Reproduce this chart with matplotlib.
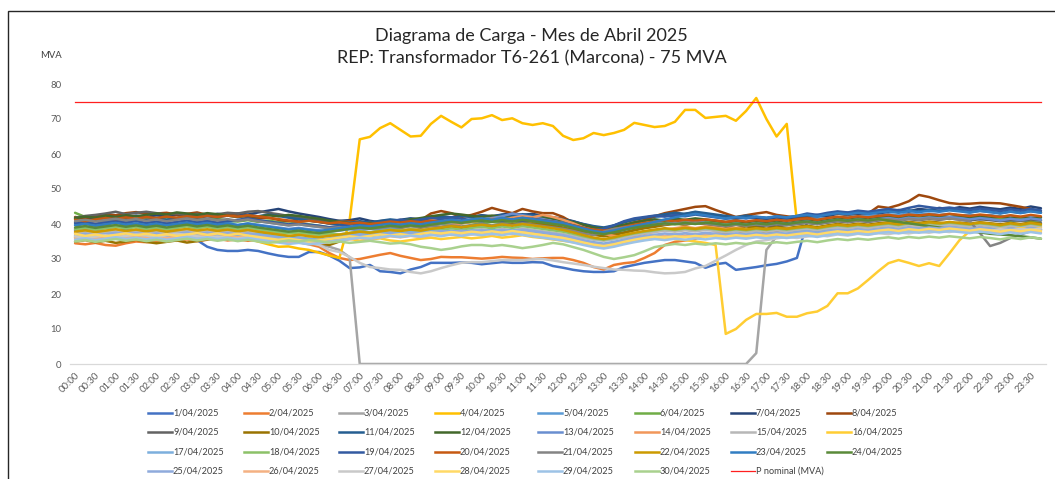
import matplotlib
matplotlib.use('Agg')
import matplotlib.pyplot as plt
from matplotlib.lines import Line2D
from matplotlib.patches import Rectangle

plt.rcParams['font.family'] = ['Lato', 'DejaVu Sans']

# ---------------- data ----------------
times = ["%02d:%02d" % (h, m) for h in range(24) for m in (0, 15, 30, 45)]
tick_labels = times[::2]
P_NOMINAL = 75

d01 = [38.2, 38.6, 38.0, 37.6, 38.1, 38.5, 38.0, 37.4,
       37.8, 37.5, 37.0, 36.6, 35.4, 33.5, 32.6, 32.3,
       32.3, 32.6, 32.3, 31.6, 31.0, 30.6, 30.6, 32.0,
       32.0, 31.0, 29.5, 27.4, 27.6, 28.3, 26.5, 26.3,
       25.9, 27.0, 27.7, 28.9, 28.9, 28.9, 29.0, 28.9,
       28.5, 28.8, 29.1, 28.9, 28.9, 29.1, 29.0, 28.0,
       27.5, 26.9, 26.5, 26.3, 26.3, 26.5, 27.7, 28.3,
       28.9, 29.3, 29.7, 29.7, 29.3, 28.9, 27.5, 28.5,
       28.9, 26.9, 27.3, 27.7, 28.2, 28.6, 29.3, 30.3,
       40.5, 41.2, 40.8, 41.5, 41.0, 41.8, 42.2, 41.6,
       42.0, 42.5, 41.8, 42.3, 42.8, 42.1, 41.7, 42.2,
       41.8, 41.3, 41.6, 41.0, 40.8, 41.2, 40.6, 40.3]
d02 = [34.5, 34.2, 34.6, 34.0, 33.8, 34.5, 35.0, 34.8,
       35.0, 35.4, 35.2, 35.6, 35.1, 35.5, 35.8, 35.3,
       35.6, 35.2, 35.5, 35.9, 35.4, 35.0, 34.8, 34.2,
       33.5, 31.7, 30.3, 29.7, 30.0, 30.6, 31.2, 31.7,
       30.9, 30.3, 29.7, 30.0, 30.6, 30.5, 30.5, 30.3,
       30.1, 30.3, 30.6, 30.4, 30.3, 30.0, 30.2, 30.3,
       30.3, 29.7, 28.9, 27.7, 27.0, 28.3, 28.8, 29.1,
       30.3, 31.7, 34.0, 34.9, 35.3, 35.7, 36.9, 37.2,
       37.5, 37.0, 37.8, 38.2, 37.6, 38.0, 38.5, 38.1,
       38.6, 38.2, 38.9, 39.2, 38.7, 39.0, 39.5, 39.1,
       39.4, 39.8, 39.2, 39.6, 40.0, 39.5, 39.2, 39.7,
       39.3, 39.0, 39.4, 38.8, 39.1, 38.7, 38.9, 38.5]
d03 = [38.5, 38.0, 38.4, 38.8, 38.2, 37.9, 38.3, 38.6,
       38.9, 38.4, 38.0, 38.5, 38.2, 37.8, 38.1, 38.4,
       38.0, 37.6, 37.2, 36.8, 36.5, 36.0, 35.4, 34.8,
       34.2, 33.5, 32.6, 30.5, 0.0, 0.0, 0.0, 0.0,
       0.0, 0.0, 0.0, 0.0, 0.0, 0.0, 0.0, 0.0,
       0.0, 0.0, 0.0, 0.0, 0.0, 0.0, 0.0, 0.0,
       0.0, 0.0, 0.0, 0.0, 0.0, 0.0, 0.0, 0.0,
       0.0, 0.0, 0.0, 0.0, 0.0, 0.0, 0.0, 0.0,
       0.0, 0.0, 0.0, 3.1, 32.6, 36.5, 37.2, 37.8,
       38.2, 37.9, 38.4, 38.0, 38.6, 38.3, 38.8, 38.5,
       38.9, 39.2, 38.7, 39.0, 39.4, 38.9, 39.1, 38.8,
       39.0, 38.6, 38.9, 38.4, 38.7, 38.3, 38.5, 38.1]
d04 = [36.5, 36.0, 36.6, 36.2, 36.9, 36.4, 36.8, 37.2,
       36.8, 36.3, 36.6, 37.0, 36.4, 36.0, 36.3, 36.6,
       36.4, 35.8, 35.0, 34.2, 33.5, 33.6, 33.0, 32.6,
       31.8, 31.0, 30.3, 41.0, 64.2, 64.9, 67.4, 68.8,
       66.9, 65.0, 65.2, 68.6, 70.9, 69.2, 67.6, 70.0,
       70.2, 71.1, 69.7, 70.2, 68.8, 68.3, 68.8, 68.0,
       65.2, 64.0, 64.5, 66.0, 65.4, 66.0, 66.9, 68.9,
       68.3, 67.7, 68.0, 69.2, 72.6, 72.6, 70.3, 70.6,
       70.9, 69.5, 72.3, 76.0, 70.0, 65.0, 68.6, 40.5,
       41.0, 40.6, 41.3, 40.8, 41.5, 41.2, 41.8, 41.4,
       42.0, 41.6, 42.3, 41.9, 42.5, 42.1, 41.8, 42.2,
       41.9, 41.5, 41.8, 41.3, 41.6, 41.0, 41.4, 41.1]
d05 = [39.8, 40.2, 39.6, 40.0, 40.5, 40.1, 39.7, 40.3,
       40.6, 40.2, 39.9, 40.4, 40.8, 40.3, 40.0, 40.5,
       40.9, 41.3, 40.8, 40.4, 40.0, 39.6, 39.9, 39.5,
       39.1, 38.8, 39.2, 38.6, 38.9, 39.3, 39.0, 39.5,
       39.8, 40.2, 39.9, 40.4, 40.8, 41.2, 40.7, 41.0,
       41.4, 41.0, 41.5, 41.8, 41.3, 42.0, 41.6, 41.2,
       40.8, 40.1, 39.4, 38.6, 38.2, 38.8, 39.5, 40.2,
       41.0, 41.8, 42.5, 43.1, 42.6, 43.3, 42.8, 42.2,
       41.8, 41.4, 41.9, 41.5, 41.2, 41.6, 41.3, 41.0,
       41.4, 41.8, 42.2, 41.9, 42.4, 42.1, 42.6, 42.3,
       42.8, 42.5, 43.1, 42.7, 43.0, 42.6, 42.9, 42.4,
       42.7, 42.3, 42.6, 42.1, 42.4, 41.9, 42.2, 41.8]
d06 = [43.2, 42.0, 41.5, 41.8, 41.2, 41.6, 41.0, 41.4,
       41.8, 41.3, 41.7, 42.1, 41.6, 41.2, 41.5, 41.0,
       40.7, 41.1, 40.6, 41.0, 40.5, 40.8, 40.3, 39.9,
       39.5, 39.0, 38.6, 38.9, 38.4, 38.8, 39.1, 38.7,
       39.0, 39.4, 39.1, 39.6, 40.0, 39.7, 40.2, 40.5,
       40.1, 40.6, 40.3, 40.8, 40.4, 40.9, 40.5, 40.2,
       39.8, 39.2, 38.5, 37.9, 37.6, 38.0, 38.6, 39.3,
       39.8, 40.3, 40.7, 41.1, 40.8, 41.4, 41.0, 40.6,
       40.2, 40.5, 40.1, 39.8, 40.2, 40.0, 39.7, 40.1,
       40.4, 40.0, 40.5, 40.9, 40.6, 41.1, 40.8, 41.2,
       41.6, 41.2, 41.7, 42.0, 41.6, 41.9, 41.5, 41.8,
       41.4, 41.7, 41.2, 41.5, 41.0, 41.3, 40.9, 41.1]
d07 = [41.5, 41.9, 41.4, 41.8, 42.2, 41.9, 42.4, 42.0,
       42.5, 42.1, 42.6, 42.3, 42.8, 42.4, 42.9, 42.6,
       43.0, 42.7, 43.3, 43.8, 44.3, 43.6, 43.0, 42.5,
       42.0, 41.4, 40.9, 41.1, 41.6, 40.9, 40.5, 40.8,
       41.2, 41.6, 41.3, 41.8, 42.2, 41.9, 42.4, 42.1,
       42.5, 42.2, 42.7, 43.1, 42.6, 42.9, 42.3, 41.9,
       41.5, 40.8, 39.9, 39.2, 38.7, 39.5, 40.6, 41.3,
       41.8, 42.2, 42.6, 42.1, 42.9, 43.3, 42.8, 42.4,
       42.0, 41.6, 42.1, 41.8, 41.5, 41.9, 41.6, 41.8,
       42.2, 42.6, 42.3, 42.9, 43.2, 42.8, 43.3, 43.0,
       43.5, 44.0, 43.6, 44.3, 44.0, 44.6, 44.2, 44.8,
       44.4, 44.9, 44.5, 44.2, 44.7, 44.3, 45.0, 44.5]
d08 = [42.0, 41.6, 42.3, 42.8, 42.5, 43.1, 43.4, 42.9,
       43.0, 43.2, 42.7, 42.9, 43.3, 42.6, 42.2, 42.8,
       42.4, 42.0, 41.5, 41.8, 41.2, 40.8, 41.3, 41.0,
       40.6, 40.2, 40.5, 40.9, 40.6, 40.3, 40.8, 41.1,
       40.6, 41.0, 41.1, 43.0, 43.7, 43.1, 42.0, 42.6,
       43.5, 44.6, 43.8, 43.1, 44.3, 43.6, 43.1, 43.1,
       42.0, 40.3, 39.8, 39.1, 38.9, 39.2, 39.7, 40.5,
       41.1, 42.2, 43.1, 43.7, 44.3, 44.9, 45.1, 44.0,
       43.0, 42.0, 42.5, 43.0, 43.4, 42.6, 42.2, 41.8,
       42.0, 42.4, 42.8, 43.0, 42.6, 43.2, 43.0, 45.0,
       44.6, 45.4, 46.5, 48.3, 47.7, 46.8, 46.0, 45.7,
       45.8, 46.0, 46.0, 45.9, 45.4, 44.9, 44.3, 43.4]
d09 = [41.8, 42.3, 42.6, 43.0, 43.5, 42.8, 43.2, 43.5,
       43.1, 42.7, 43.0, 42.5, 42.9, 42.4, 42.8, 43.2,
       43.0, 43.5, 43.7, 43.2, 42.8, 42.3, 41.9, 41.5,
       41.0, 40.6, 40.9, 40.5, 40.2, 40.6, 40.3, 40.8,
       41.1, 40.7, 41.0, 40.6, 40.9, 40.5, 40.8, 41.2,
       40.8, 41.1, 40.7, 41.0, 40.6, 40.9, 40.5, 40.2,
       39.8, 39.4, 39.0, 38.5, 37.8, 37.2, 37.6, 38.3,
       38.9, 39.4, 39.8, 40.2, 39.9, 40.4, 40.0, 39.7,
       39.4, 39.8, 39.5, 39.2, 39.6, 39.3, 39.7, 40.0,
       40.3, 40.0, 40.4, 40.8, 40.5, 40.9, 40.6, 41.0,
       41.3, 41.0, 41.4, 41.1, 41.5, 41.2, 41.6, 41.3,
       41.0, 41.4, 41.1, 40.8, 41.2, 40.9, 41.3, 41.0]
d10 = [35.0, 35.4, 34.8, 35.2, 34.6, 35.0, 35.5, 34.9,
       34.5, 34.9, 35.3, 34.7, 35.1, 35.6, 36.2, 36.8,
       37.2, 37.6, 37.1, 37.5, 37.0, 36.5, 36.0, 35.2,
       34.6, 34.0, 35.0, 36.5, 37.2, 37.6, 37.9, 38.2,
       38.5, 38.1, 38.6, 39.0, 38.7, 39.2, 38.9, 39.3,
       39.6, 39.2, 39.7, 40.1, 39.8, 40.2, 39.9, 39.5,
       39.0, 38.4, 37.6, 36.9, 36.5, 36.9, 37.5, 38.2,
       38.8, 39.2, 39.7, 40.1, 39.8, 40.3, 40.0, 39.6,
       39.2, 38.8, 39.3, 39.0, 38.7, 39.1, 38.8, 39.2,
       39.5, 39.1, 39.6, 40.0, 39.7, 40.1, 39.8, 40.2,
       40.5, 40.1, 40.6, 40.3, 40.7, 40.4, 40.0, 40.4,
       40.1, 40.5, 40.2, 39.9, 40.3, 40.0, 40.4, 40.1]
d11 = [40.5, 40.9, 41.2, 40.8, 41.3, 41.0, 41.5, 41.1,
       41.6, 41.2, 41.7, 42.1, 41.8, 42.2, 41.9, 42.4,
       42.1, 42.6, 42.2, 42.7, 42.3, 41.8, 41.4, 41.0,
       40.6, 40.1, 39.8, 40.2, 40.8, 40.4, 40.9, 41.3,
       41.0, 41.5, 41.2, 41.7, 42.1, 41.8, 42.3, 42.0,
       42.4, 42.1, 42.6, 42.3, 42.8, 42.5, 42.1, 41.7,
       41.3, 40.7, 40.0, 39.4, 39.0, 39.6, 40.5, 41.2,
       41.8, 42.3, 42.8, 43.2, 42.9, 43.5, 43.1, 42.7,
       42.3, 41.9, 42.4, 42.0, 41.7, 42.1, 41.8, 42.2,
       42.5, 42.2, 42.7, 43.1, 42.8, 43.3, 43.0, 43.5,
       43.8, 43.4, 43.9, 43.6, 44.0, 43.7, 44.1, 43.8,
       43.4, 43.8, 43.5, 43.1, 43.6, 43.2, 43.7, 43.3]
d12 = [41.7, 42.1, 41.8, 42.4, 42.0, 42.5, 42.2, 42.6,
       43.0, 42.7, 43.3, 43.0, 42.6, 43.1, 42.8, 42.4,
       42.0, 42.4, 42.1, 42.5, 42.2, 42.6, 42.3, 41.9,
       41.5, 41.0, 40.6, 40.2, 39.8, 40.3, 40.0, 40.5,
       40.9, 41.3, 41.7, 42.2, 42.6, 43.0, 42.7, 42.3,
       42.0, 42.4, 42.1, 41.7, 42.0, 41.6, 41.9, 41.5,
       41.1, 40.5, 39.8, 39.0, 38.6, 39.1, 39.8, 40.4,
       40.9, 41.3, 41.0, 41.5, 41.2, 41.6, 41.3, 40.9,
       40.6, 40.9, 40.5, 40.8, 40.4, 40.7, 40.3, 40.6,
       41.0, 40.6, 41.1, 41.5, 41.2, 41.6, 41.3, 41.8,
       42.1, 41.7, 42.2, 42.5, 42.1, 42.4, 42.0, 42.3,
       41.9, 42.2, 41.8, 42.1, 41.7, 42.0, 41.6, 41.9]
d13 = [38.8, 39.2, 38.9, 39.4, 39.0, 39.5, 39.1, 39.6,
       39.3, 39.8, 39.4, 39.9, 39.5, 40.0, 39.6, 40.1,
       39.7, 40.2, 39.8, 39.4, 39.0, 38.6, 38.9, 38.5,
       38.2, 37.8, 38.1, 38.5, 38.2, 38.6, 38.3, 38.8,
       39.1, 39.5, 39.2, 39.7, 40.1, 40.5, 40.2, 40.8,
       41.2, 41.7, 42.2, 43.0, 42.5, 42.0, 41.4, 40.8,
       40.2, 39.5, 38.9, 38.3, 37.9, 38.4, 39.0, 39.6,
       40.1, 40.5, 40.2, 40.6, 40.3, 40.7, 40.4, 40.0,
       39.7, 40.1, 39.8, 40.2, 39.9, 40.3, 40.0, 40.4,
       40.7, 40.3, 40.8, 41.2, 40.9, 41.3, 41.0, 41.4,
       41.7, 41.3, 41.8, 41.5, 41.9, 41.6, 42.0, 41.7,
       41.3, 41.7, 41.4, 41.0, 41.5, 41.1, 41.6, 41.2]
d14 = [37.5, 37.9, 37.4, 37.8, 38.2, 37.8, 38.3, 37.9,
       38.4, 38.0, 38.5, 38.1, 38.6, 38.2, 38.7, 38.3,
       38.8, 38.4, 38.0, 37.6, 37.2, 37.6, 37.2, 36.8,
       36.5, 36.8, 36.4, 36.9, 37.3, 36.9, 37.4, 37.8,
       38.1, 38.6, 38.3, 38.8, 39.2, 39.7, 40.2, 40.6,
       41.0, 41.5, 41.2, 41.8, 42.2, 41.9, 42.6, 42.0,
       41.2, 40.2, 39.0, 38.0, 37.2, 36.6, 36.2, 36.6,
       37.2, 37.8, 38.3, 38.8, 39.2, 38.8, 39.3, 39.0,
       38.6, 38.9, 38.5, 38.2, 38.6, 38.3, 38.7, 38.4,
       38.8, 38.5, 38.9, 39.3, 39.0, 39.4, 39.1, 39.5,
       39.8, 39.4, 39.9, 39.6, 40.0, 39.7, 40.1, 39.8,
       39.5, 39.9, 39.6, 39.2, 39.7, 39.3, 39.8, 39.4]
d15 = [37.2, 37.6, 37.1, 37.5, 37.9, 37.4, 37.8, 37.3,
       37.7, 37.2, 37.6, 38.0, 37.5, 37.9, 37.4, 37.8,
       37.3, 37.7, 37.2, 36.8, 36.4, 36.0, 35.7, 35.4,
       35.2, 35.5, 35.9, 36.3, 36.8, 37.1, 36.8, 37.2,
       37.5, 37.1, 37.6, 38.0, 37.7, 38.1, 37.8, 38.2,
       38.5, 38.1, 38.6, 38.2, 38.7, 38.3, 37.9, 37.5,
       37.1, 36.6, 36.0, 35.5, 35.2, 35.6, 36.2, 36.8,
       37.3, 37.7, 38.1, 37.8, 38.2, 37.9, 38.3, 38.0,
       37.6, 38.0, 37.7, 38.1, 37.8, 38.2, 37.9, 38.3,
       38.6, 38.2, 38.7, 39.0, 38.7, 39.1, 38.8, 39.2,
       39.5, 39.1, 39.6, 39.3, 39.7, 39.4, 39.8, 39.5,
       39.2, 39.6, 39.3, 38.9, 39.4, 39.0, 39.5, 39.1]
d16 = [36.0, 35.5, 36.2, 35.8, 36.5, 36.0, 35.6, 36.3,
       36.8, 36.2, 35.9, 36.4, 36.7, 36.1, 35.8, 36.2,
       36.5, 36.0, 35.7, 36.1, 35.5, 35.2, 35.6, 35.9,
       35.4, 35.0, 35.5, 35.8, 35.2, 35.6, 35.9, 35.3,
       35.0, 35.4, 35.8, 36.1, 35.7, 36.0, 36.3, 35.9,
       36.2, 36.6, 36.1, 36.4, 36.8, 36.3, 36.0, 35.6,
       35.2, 34.8, 34.3, 33.9, 34.2, 34.6, 34.9, 35.2,
       35.5, 35.8, 36.1, 35.7, 35.4, 35.0, 34.6, 34.0,
       8.6, 10.0, 12.6, 14.3, 14.3, 14.6, 13.5, 13.5,
       14.5, 15.0, 16.6, 20.2, 20.2, 21.6, 24.0, 26.5,
       28.8, 29.7, 28.9, 28.0, 28.8, 28.0, 31.6, 35.4,
       38.0, 38.4, 38.1, 38.6, 38.3, 38.8, 38.5, 38.9]
d17 = [36.2, 35.8, 36.3, 35.9, 36.4, 36.0, 36.5, 36.1,
       36.6, 36.2, 36.7, 36.3, 36.8, 36.4, 36.9, 36.5,
       37.0, 36.6, 37.1, 36.7, 36.3, 35.9, 36.2, 35.8,
       35.5, 35.9, 36.3, 36.7, 37.1, 36.8, 37.2, 37.6,
       37.3, 37.8, 37.5, 38.0, 37.6, 38.1, 37.7, 38.2,
       37.9, 38.3, 37.9, 38.4, 38.0, 37.6, 37.2, 36.8,
       36.4, 35.9, 35.3, 34.8, 34.4, 34.9, 35.5, 36.0,
       36.5, 36.9, 36.6, 37.0, 36.7, 37.1, 36.8, 37.2,
       36.9, 37.3, 37.0, 37.4, 37.1, 37.5, 37.2, 37.6,
       37.9, 37.5, 38.0, 38.3, 38.0, 38.4, 38.1, 38.5,
       38.8, 38.4, 38.9, 38.6, 39.0, 38.7, 39.1, 38.8,
       38.5, 38.9, 38.6, 38.2, 38.7, 38.3, 38.8, 38.4]
d18 = [38.5, 38.9, 38.4, 38.8, 39.2, 38.7, 39.1, 38.6,
       39.0, 38.5, 38.9, 39.3, 38.8, 39.2, 38.7, 39.1,
       38.6, 39.0, 38.5, 38.1, 37.7, 37.3, 37.6, 37.2,
       36.9, 37.3, 37.0, 37.5, 37.9, 37.6, 38.0, 38.4,
       38.1, 38.5, 38.2, 38.7, 38.3, 38.8, 38.4, 38.9,
       39.2, 38.8, 39.3, 38.9, 39.4, 39.0, 38.6, 38.2,
       37.8, 37.2, 36.5, 35.9, 35.5, 36.0, 36.7, 37.3,
       37.8, 38.2, 38.6, 38.3, 38.7, 38.4, 38.8, 38.5,
       38.1, 38.5, 38.2, 38.6, 38.3, 38.7, 38.4, 38.8,
       39.1, 38.7, 39.2, 39.6, 39.3, 39.7, 39.4, 39.8,
       40.1, 39.7, 40.2, 39.9, 40.3, 40.0, 40.4, 40.1,
       39.8, 40.2, 39.9, 39.5, 40.0, 39.6, 40.1, 39.7]
d19 = [40.2, 40.6, 40.1, 40.5, 40.9, 40.4, 40.8, 40.3,
       40.7, 40.2, 40.6, 41.0, 40.5, 40.9, 40.4, 40.8,
       41.2, 41.6, 41.1, 40.7, 40.3, 39.9, 40.2, 39.8,
       39.5, 39.1, 39.4, 39.8, 40.2, 39.9, 40.4, 40.8,
       41.2, 40.8, 41.3, 41.7, 41.4, 41.9, 41.5, 41.1,
       40.8, 41.2, 40.9, 41.4, 41.0, 41.5, 41.1, 40.7,
       40.3, 39.6, 38.9, 38.2, 38.6, 39.6, 40.8, 41.6,
       42.0, 42.4, 42.1, 42.6, 42.2, 42.7, 42.3, 41.9,
       41.5, 41.9, 41.6, 42.0, 41.7, 42.1, 41.8, 42.3,
       43.0, 42.6, 43.2, 43.6, 43.3, 43.8, 43.5, 43.9,
       44.3, 43.9, 44.6, 45.2, 44.8, 44.4, 44.7, 44.3,
       44.0, 44.4, 44.1, 43.7, 44.2, 43.8, 44.3, 43.9]
d20 = [41.2, 40.8, 41.3, 41.7, 41.4, 41.9, 41.5, 42.0,
       41.7, 42.1, 41.8, 42.2, 41.9, 42.3, 42.0, 42.4,
       42.1, 42.5, 42.2, 41.8, 41.4, 41.0, 40.6, 40.9,
       40.6, 40.2, 40.5, 40.1, 40.4, 40.0, 40.3, 40.7,
       40.4, 40.8, 40.5, 41.0, 40.7, 41.1, 40.8, 41.2,
       41.5, 41.1, 41.6, 41.3, 41.7, 41.4, 41.0, 40.6,
       40.2, 39.6, 38.9, 38.4, 38.1, 38.5, 39.2, 39.8,
       40.3, 40.7, 41.1, 40.8, 41.2, 40.9, 41.3, 41.0,
       40.6, 41.0, 40.7, 41.1, 40.8, 41.2, 40.9, 41.3,
       41.6, 41.2, 41.7, 42.1, 41.8, 42.2, 41.9, 42.3,
       42.6, 42.2, 42.7, 42.4, 42.8, 42.5, 42.9, 42.6,
       42.3, 42.7, 42.4, 42.0, 42.5, 42.1, 42.6, 42.2]
d21 = [40.8, 41.2, 40.7, 41.1, 41.5, 41.0, 41.4, 40.9,
       41.3, 40.8, 41.2, 41.6, 41.1, 41.5, 41.0, 41.4,
       40.9, 41.3, 40.8, 40.4, 40.0, 39.6, 39.9, 39.5,
       39.2, 38.8, 39.1, 38.7, 39.0, 38.6, 38.9, 39.3,
       39.0, 39.4, 39.1, 39.5, 39.2, 39.6, 39.3, 39.7,
       40.0, 39.6, 40.1, 39.7, 40.2, 39.8, 39.4, 39.0,
       38.6, 38.0, 37.3, 36.8, 37.8, 38.6, 39.0, 39.4,
       39.8, 40.2, 39.9, 40.3, 40.0, 40.4, 40.1, 39.7,
       39.4, 39.8, 39.5, 39.9, 39.6, 40.0, 39.7, 40.1,
       40.4, 40.0, 40.5, 40.9, 40.6, 41.0, 40.7, 41.1,
       41.4, 41.0, 41.5, 41.2, 41.6, 41.3, 41.6, 41.2,
       40.8, 37.4, 33.7, 34.6, 36.0, 37.0, 38.0, 38.3]
d22 = [37.8, 38.2, 37.7, 38.1, 38.5, 38.0, 38.4, 37.9,
       38.3, 37.8, 38.2, 38.6, 38.1, 38.5, 38.0, 38.4,
       37.9, 38.3, 37.8, 37.4, 37.0, 36.6, 36.9, 36.5,
       36.2, 36.6, 37.0, 37.4, 37.8, 37.5, 37.9, 38.3,
       38.0, 38.4, 38.1, 38.6, 39.0, 39.4, 39.1, 39.5,
       39.8, 39.4, 39.9, 39.5, 40.0, 39.6, 39.2, 38.8,
       38.3, 37.6, 36.8, 36.1, 35.7, 36.2, 36.9, 37.5,
       38.0, 38.4, 38.8, 38.5, 38.9, 38.6, 39.0, 38.7,
       38.3, 38.7, 38.4, 38.8, 38.5, 38.9, 38.6, 39.0,
       39.3, 38.9, 39.4, 39.8, 39.5, 39.9, 39.6, 40.0,
       40.3, 39.9, 40.4, 40.1, 40.5, 40.2, 40.6, 40.3,
       40.0, 40.4, 40.1, 39.7, 40.2, 39.8, 40.3, 39.9]
d23 = [39.6, 40.0, 39.5, 39.9, 40.3, 39.8, 40.2, 39.7,
       40.1, 39.6, 40.0, 40.4, 39.9, 40.3, 39.8, 40.2,
       39.7, 40.1, 39.6, 39.2, 38.8, 38.4, 38.7, 38.3,
       38.0, 38.4, 38.8, 39.2, 39.6, 39.3, 39.7, 40.1,
       39.8, 40.2, 39.9, 40.4, 40.8, 41.2, 40.9, 41.3,
       41.6, 41.2, 41.7, 41.3, 41.8, 41.4, 41.0, 40.6,
       40.2, 39.5, 38.7, 38.0, 37.6, 38.1, 38.8, 39.4,
       40.0, 40.6, 41.3, 41.9, 42.4, 42.9, 42.5, 42.0,
       41.6, 42.0, 41.7, 42.1, 41.8, 42.2, 41.9, 42.3,
       42.6, 42.2, 42.7, 43.1, 42.8, 43.2, 42.9, 43.3,
       43.6, 43.2, 43.7, 43.4, 43.8, 43.5, 43.9, 43.6,
       43.3, 43.7, 43.4, 43.0, 43.5, 43.1, 43.6, 43.2]
d24 = [39.0, 39.4, 38.9, 39.3, 39.7, 39.2, 39.6, 39.1,
       39.5, 39.0, 39.4, 39.8, 39.3, 39.7, 39.2, 39.6,
       39.1, 39.5, 39.0, 38.6, 38.2, 37.8, 38.1, 37.7,
       37.4, 37.8, 38.2, 38.6, 39.0, 38.7, 39.1, 39.5,
       39.2, 39.6, 39.3, 39.8, 40.2, 40.6, 40.3, 40.7,
       41.0, 40.6, 41.1, 40.7, 41.2, 40.8, 40.4, 40.0,
       39.6, 38.9, 38.1, 37.5, 37.1, 37.6, 38.3, 38.9,
       39.4, 39.8, 40.2, 39.9, 40.3, 40.0, 40.4, 40.1,
       39.7, 40.1, 39.8, 40.2, 39.9, 40.3, 40.0, 40.4,
       40.7, 40.3, 40.8, 41.2, 40.9, 41.3, 41.0, 41.4,
       41.0, 40.6, 40.2, 39.8, 39.4, 39.0, 38.6, 38.2,
       37.9, 37.6, 37.2, 37.0, 36.8, 36.5, 36.2, 35.8]
d25 = [36.8, 37.2, 36.7, 37.1, 37.5, 37.0, 37.4, 36.9,
       37.3, 36.8, 37.2, 37.6, 37.1, 37.5, 37.0, 37.4,
       36.9, 37.3, 36.8, 36.4, 36.0, 35.6, 35.9, 35.5,
       35.2, 35.6, 36.0, 36.4, 36.8, 36.5, 36.9, 37.3,
       37.0, 37.4, 37.1, 37.6, 38.0, 37.7, 38.1, 37.8,
       38.2, 37.8, 38.3, 37.9, 38.4, 38.0, 37.6, 37.2,
       36.8, 36.1, 35.3, 34.6, 34.2, 34.7, 35.4, 36.0,
       36.5, 36.9, 37.3, 37.0, 37.4, 37.1, 37.5, 37.2,
       36.8, 37.2, 36.9, 37.3, 37.0, 37.4, 37.1, 37.5,
       37.8, 37.4, 37.9, 38.3, 38.0, 38.4, 38.1, 38.5,
       38.8, 38.4, 38.9, 38.6, 39.0, 38.7, 39.1, 38.8,
       38.5, 38.9, 38.6, 38.2, 38.7, 38.3, 38.8, 38.4]
d26 = [36.0, 36.4, 35.9, 36.3, 36.7, 36.2, 36.6, 36.1,
       36.5, 36.0, 36.4, 36.8, 36.3, 36.7, 36.2, 36.6,
       36.1, 36.5, 36.0, 35.6, 35.2, 34.8, 35.1, 34.7,
       34.4, 34.8, 35.2, 35.6, 36.0, 35.7, 36.1, 36.5,
       36.2, 36.6, 36.3, 36.8, 37.2, 36.9, 37.3, 37.0,
       37.4, 37.0, 37.5, 37.1, 37.6, 37.2, 36.8, 36.4,
       36.0, 35.3, 34.5, 33.8, 33.4, 33.9, 34.6, 35.2,
       35.7, 36.1, 36.5, 36.2, 36.6, 36.3, 36.7, 36.4,
       36.0, 36.4, 36.1, 36.5, 36.2, 36.6, 36.3, 36.7,
       37.0, 36.6, 37.1, 37.5, 37.2, 37.6, 37.3, 37.7,
       38.0, 37.6, 38.1, 37.8, 38.2, 37.9, 38.3, 38.0,
       37.7, 38.1, 37.8, 37.4, 37.9, 37.5, 38.0, 37.6]
d27 = [36.5, 36.0, 36.4, 36.8, 36.2, 36.6, 37.0, 36.7,
       36.3, 36.8, 37.2, 36.9, 36.5, 36.1, 36.4, 36.0,
       35.8, 36.2, 35.9, 35.5, 35.3, 35.6, 35.0, 34.6,
       34.0, 32.6, 32.0, 30.6, 28.9, 27.7, 27.4, 27.0,
       26.9, 26.3, 25.9, 26.5, 27.4, 28.2, 28.9, 29.1,
       29.1, 29.4, 29.7, 29.7, 29.7, 29.9, 30.0, 29.6,
       29.1, 28.7, 28.3, 27.8, 27.4, 27.0, 26.9, 26.7,
       26.6, 26.2, 25.9, 26.0, 26.3, 27.3, 28.0, 29.5,
       31.0, 32.6, 34.0, 35.0, 35.4, 35.9, 36.3, 36.0,
       36.4, 36.8, 36.5, 37.0, 36.7, 37.2, 36.9, 37.4,
       37.1, 37.6, 37.3, 37.8, 37.5, 38.0, 37.7, 38.2,
       37.9, 38.3, 38.0, 38.5, 38.2, 38.6, 38.3, 38.7]
d28 = [37.2, 36.6, 37.0, 36.5, 36.9, 37.3, 36.8, 37.2,
       36.7, 37.1, 36.6, 37.0, 37.4, 36.9, 37.3, 36.8,
       37.2, 36.7, 36.3, 35.9, 35.5, 35.8, 35.4, 35.0,
       35.3, 35.7, 36.1, 36.5, 36.2, 36.6, 37.0, 36.7,
       37.1, 36.7, 37.2, 37.6, 37.3, 37.7, 37.4, 37.8,
       37.5, 37.9, 37.5, 38.0, 37.6, 37.2, 36.8, 36.4,
       36.0, 35.4, 34.7, 34.1, 33.7, 34.2, 34.9, 35.5,
       36.0, 36.4, 36.1, 36.5, 36.2, 36.6, 36.3, 36.7,
       36.4, 36.8, 36.5, 36.9, 36.6, 37.0, 36.7, 37.1,
       37.4, 37.0, 37.5, 37.9, 37.6, 38.0, 37.7, 38.1,
       38.4, 38.0, 38.5, 38.2, 38.6, 38.3, 38.7, 38.4,
       38.1, 38.5, 38.2, 37.8, 38.3, 37.9, 38.4, 38.0]
d29 = [35.5, 35.9, 35.4, 35.8, 36.2, 35.7, 36.1, 35.6,
       36.0, 35.5, 35.9, 36.3, 35.8, 36.2, 35.7, 36.1,
       35.6, 36.0, 35.5, 35.1, 34.7, 34.3, 34.6, 34.2,
       34.5, 34.9, 35.3, 35.7, 36.1, 35.8, 36.2, 36.6,
       36.3, 36.7, 36.4, 36.9, 36.5, 37.0, 36.6, 37.1,
       36.8, 37.2, 36.8, 37.3, 36.9, 36.5, 36.1, 35.7,
       35.3, 34.7, 34.0, 33.4, 33.0, 33.5, 34.2, 34.8,
       35.3, 35.7, 35.4, 35.8, 35.5, 35.9, 35.6, 36.0,
       35.7, 36.1, 35.8, 36.2, 35.9, 36.3, 36.0, 36.4,
       36.7, 36.3, 36.8, 37.2, 36.9, 37.3, 37.0, 37.4,
       37.7, 37.3, 37.8, 37.5, 37.9, 37.6, 38.0, 37.7,
       37.4, 37.8, 37.5, 37.1, 37.6, 37.2, 37.7, 37.3]
d30 = [35.0, 35.4, 34.9, 35.3, 35.7, 35.2, 35.6, 35.1,
       35.5, 35.0, 35.4, 35.8, 35.3, 35.7, 35.2, 35.6,
       35.1, 35.5, 35.0, 34.6, 34.9, 35.3, 35.0, 35.4,
       35.1, 34.7, 35.0, 34.6, 34.9, 35.2, 34.8, 34.4,
       34.6, 34.2, 33.5, 33.1, 32.6, 33.0, 33.6, 34.0,
       34.0, 33.7, 34.0, 33.6, 33.1, 33.5, 34.0, 34.6,
       34.2, 33.4, 32.6, 31.6, 30.6, 30.0, 30.5, 31.1,
       32.2, 33.4, 33.9, 34.3, 34.0, 34.4, 34.1, 34.5,
       34.2, 34.6, 34.3, 34.7, 34.4, 34.8, 34.5, 34.9,
       35.2, 34.8, 35.3, 35.7, 35.4, 35.8, 35.5, 35.9,
       36.2, 35.8, 36.3, 36.0, 36.4, 36.1, 36.5, 36.2,
       35.9, 36.3, 36.0, 35.6, 36.1, 35.7, 36.2, 35.8]

series = [d01, d02, d03, d04, d05, d06, d07, d08, d09, d10,
          d11, d12, d13, d14, d15, d16, d17, d18, d19, d20,
          d21, d22, d23, d24, d25, d26, d27, d28, d29, d30]
labels = ["%d/04/2025" % d for d in range(1, 31)]
colors = ["#4472C4", "#ED7D31", "#A5A5A5", "#FFC000", "#5B9BD5", "#70AD47",
          "#264478", "#9E480E", "#636363", "#997300", "#255E91", "#43682B",
          "#698ED0", "#F1975A", "#B7B7B7", "#FFCD33", "#7CAFDD", "#8CC168",
          "#335AA1", "#C65911", "#848484", "#CC9A00", "#317DC2", "#5A8A39",
          "#8FAADC", "#F4B183", "#C9C9C9", "#FFD966", "#9DC3E6", "#A9D18E"]
nominal_label = "P nominal (MVA)"
nominal_color = "#FF1F1F"

for s in series:
    assert len(s) == 96, len(s)

# ---------------- figure ----------------
W, H = 1055, 479
fig = plt.figure(figsize=(W / 100, H / 100), dpi=100)


def fx(px):
    return px / W


def fy(py):
    return 1 - py / H


# outer chart frame (only top/left edges fall inside the crop)
fig.add_artist(Rectangle((fx(8), fy(560)), fx(1200), fy(11) - fy(560),
                         transform=fig.transFigure, fill=False,
                         edgecolor='#262626', lw=1.0))

ax = fig.add_axes([fx(70), fy(364), fx(1046) - fx(70), fy(84) - fy(364)])
xs = list(range(len(times)))
for vals, col in zip(series, colors):
    ax.plot(xs, vals, color=col, lw=1.8, solid_joinstyle='round',
            solid_capstyle='round')
ax.plot(xs, [P_NOMINAL] * len(xs), color=nominal_color, lw=0.9)

ax.set_xlim(-0.5, len(times) - 0.5)
ax.set_ylim(0, 80)
ax.set_yticks(range(0, 81, 10))
ax.set_xticks(xs[::2])
ax.set_xticklabels(tick_labels, rotation=45, ha='right',
                   rotation_mode='anchor')
ax.tick_params(axis='both', length=0, labelsize=6.8, colors='#595959')
ax.tick_params(axis='y', pad=6)
ax.tick_params(axis='x', pad=5)
for sp in ('top', 'right', 'left'):
    ax.spines[sp].set_visible(False)
ax.spines['bottom'].set_color('#D9D9D9')
ax.spines['bottom'].set_linewidth(0.9)
ax.patch.set_alpha(0)

# titles
fig.text(fx(531), fy(41), "Diagrama de Carga - Mes de Abril 2025",
         ha='center', va='baseline', fontsize=13, color='#262626')
fig.text(fx(532), fy(63), "REP: Transformador T6-261 (Marcona) - 75 MVA",
         ha='center', va='baseline', fontsize=13, color='#262626')
fig.text(fx(51), fy(55), "MVA", ha='center', va='center', fontsize=6.8,
         color='#404040')

# legend (8 columns, row-major like Excel)
col_x = [148, 244, 339, 435, 538, 635, 731, 827]
row_y = [413, 432, 452, 471]
entries = list(zip(labels, colors, [1.8] * 30)) + [(nominal_label, nominal_color, 0.9)]
for k, (lab, col, lw) in enumerate(entries):
    r, c = divmod(k, 8)
    x0, y0 = col_x[c], row_y[r]
    fig.add_artist(Line2D([fx(x0), fx(x0 + 24)], [fy(y0), fy(y0)],
                          transform=fig.transFigure, color=col, lw=lw))
    fig.text(fx(x0 + 25), fy(y0), lab, ha='left', va='center',
             fontsize=6.6, color='#404040')

fig.savefig("out.png", dpi=100)
